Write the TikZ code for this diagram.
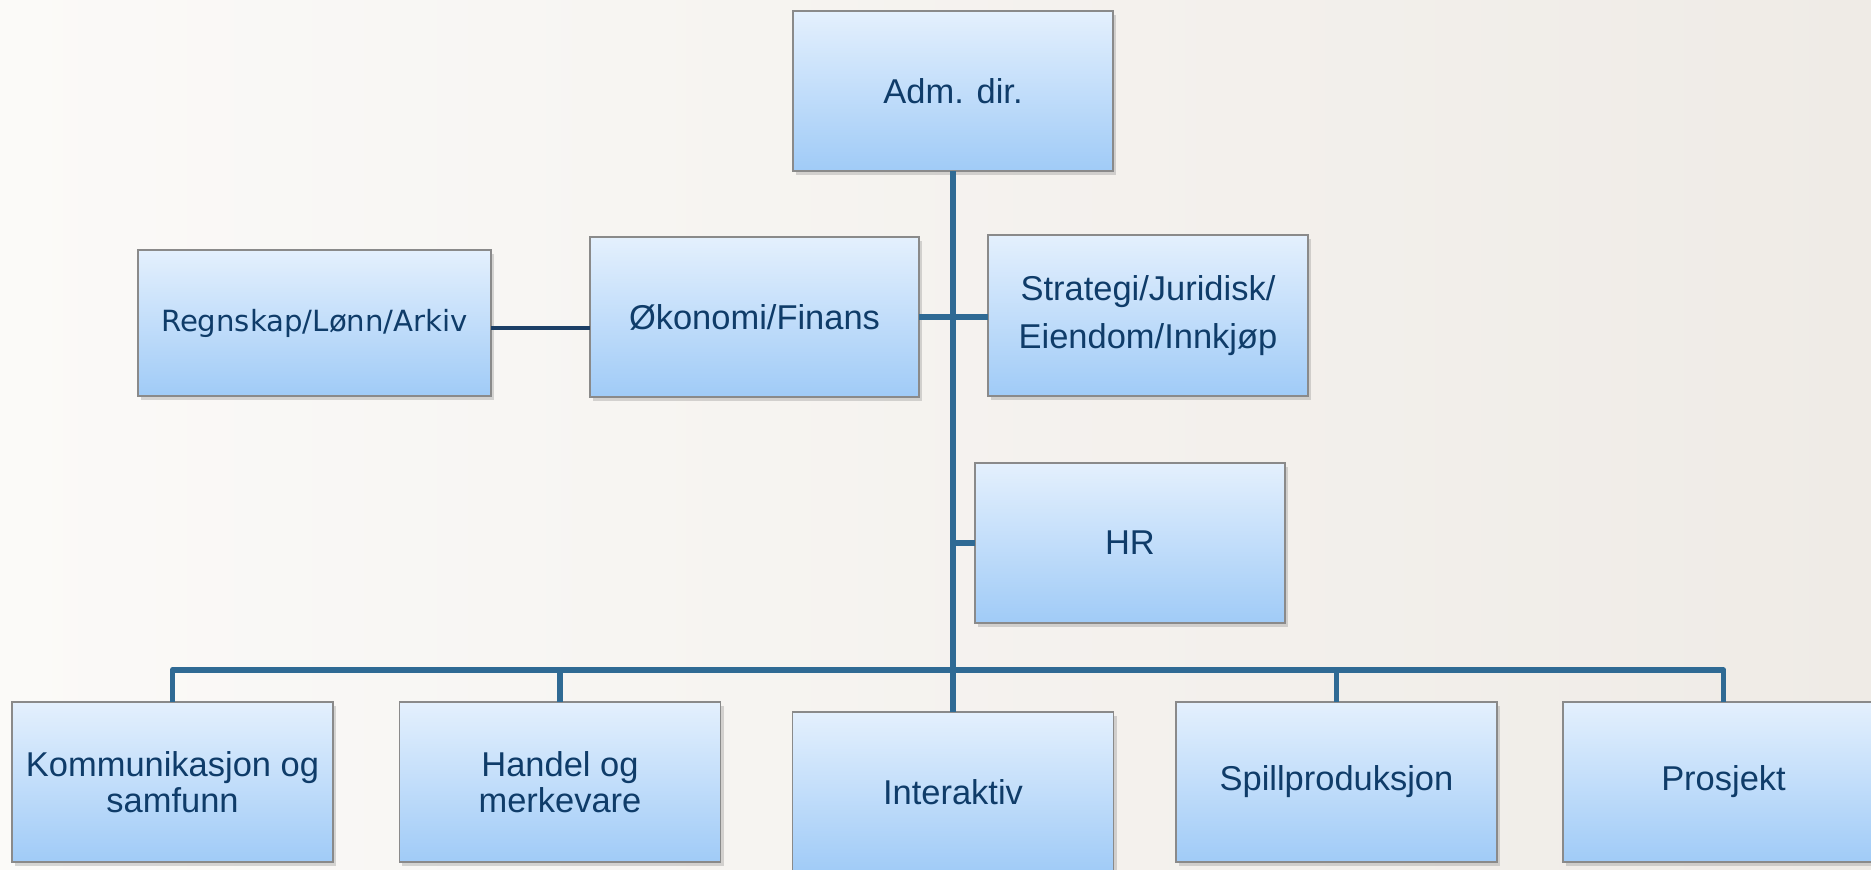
\documentclass[tikz,border=0pt]{standalone}
\usepackage{fontspec}
\setmainfont{Liberation Sans}
\newfontfamily\verdfont{DejaVu Sans}
\usetikzlibrary{shadows}
\definecolor{boxtop}{RGB}{228,240,253}
\definecolor{boxbot}{RGB}{160,203,247}
\definecolor{boxline}{RGB}{138,138,138}
\definecolor{textnavy}{RGB}{15,60,105}
\definecolor{linkblue}{RGB}{47,106,148}
\definecolor{linknavy}{RGB}{28,63,102}
\definecolor{bgleft}{RGB}{251,250,248}
\definecolor{bgright}{RGB}{239,235,230}

\tikzset{
  unit/.style={draw=boxline, line width=0.5pt, top color=boxtop, bottom color=boxbot,
    text=textnavy, align=center, inner sep=0pt, outer sep=0pt,
    minimum width=3.2cm, minimum height=1.6cm,
    font=\fontsize{9.8}{13.7}\selectfont,
    drop shadow={shadow xshift=0.03cm, shadow yshift=-0.04cm, opacity=0.3}},
  link/.style={draw=linkblue, line width=1.6pt}
}

\begin{document}
\begin{tikzpicture}[x=0.01cm, y=-0.01cm]
% 1 unit = 1 pixel of the 1871 x 870 chart, y runs downwards

% Background
\clip (0,0) rectangle (1871,870);
\fill[left color=bgleft, right color=bgright] (0,0) rectangle (1871,870);

% Top level and staff units
\node[unit] (adm) at (953,91) {Adm. dir.};
\node[unit, minimum width=3.53cm, minimum height=1.46cm,
  font=\verdfont\fontsize{8.3}{10}\selectfont] (regn) at (314.5,323) {Regnskap/Lønn/Arkiv};
\node[unit, minimum width=3.29cm] (oko) at (754.5,317) {Økonomi/Finans};
\node[unit, minimum height=1.61cm] (strat) at (1148,315.5) {Strategi/Juridisk/\\Eiendom/Innkjøp};
\node[unit, minimum width=3.1cm] (hr) at (1130,543) {HR};

% Line units (bottom row)
\foreach \name/\x/\txt in {kom/172.5/{Kommunikasjon og\\samfunn}, han/560/{Handel og\\merkevare},
    spill/1336.5/{Spillproduksjon}, pros/1723.5/{Prosjekt}}
  \node[unit, minimum width=3.21cm, font=\fontsize{9.8}{10.2}\selectfont] (\name) at (\x,782) {\txt};
\node[unit, minimum width=3.21cm] (int) at (953,792) {Interaktiv};

% Connectors
\coordinate (bus) at (953,670);
\draw[link] (adm.south) -- (int.north);
\draw[link] (oko.east) -- (oko.east -| strat.west);
\draw[link] (hr.west) -- (hr.west -| adm.south);
\draw[link, line join=round] (kom.north) -- (kom.north |- bus) -- (pros.north |- bus) -- (pros.north);
\foreach \name in {han,spill}
  \draw[link] (\name.north) -- (\name.north |- bus);
\draw[link, draw=linknavy, line width=1.4pt] ([yshift=-0.05cm]regn.east) -- ([yshift=-0.05cm]regn.east -| oko.west);
\end{tikzpicture}
\end{document}
